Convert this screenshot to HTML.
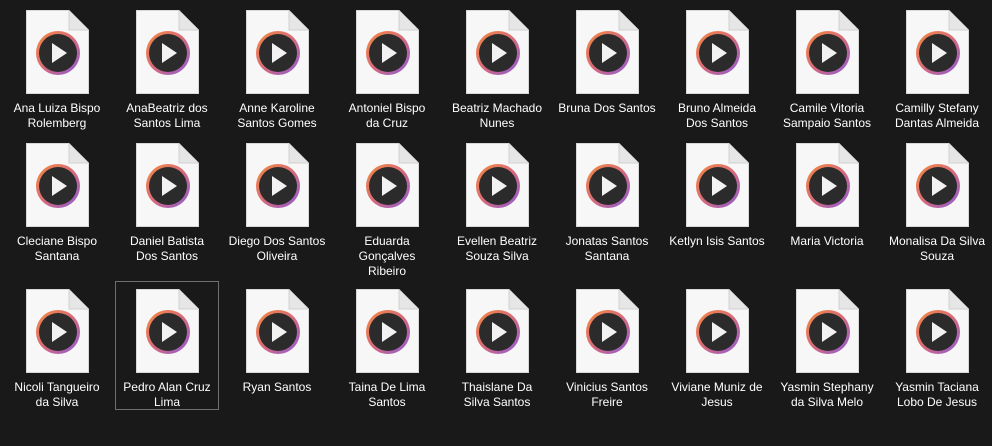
<!DOCTYPE html>
<html><head><meta charset="utf-8"><style>
html,body{margin:0;padding:0;background:#191919;width:992px;height:446px;overflow:hidden;font-family:"Liberation Sans",sans-serif;}
.cell{position:absolute;width:104px;}
.icon{position:absolute;left:21px;top:8px;width:63px;height:84px;}
.label{position:absolute;left:0;width:104px;top:99px;text-align:center;color:#fff;font-size:12px;line-height:15px;}
.sel{outline:1px solid #6e6e6e;outline-offset:-1px;}
</style></head><body>
<svg width="0" height="0" style="position:absolute"><defs>
<linearGradient id="rg" x1="0" y1="0" x2="1" y2="1"><stop offset="0" stop-color="#f58a3c"/><stop offset="0.5" stop-color="#d86a7a"/><stop offset="1" stop-color="#8a5ad8"/></linearGradient>
</defs></svg>
<div id="grid"></div>
<script>
const names=[
"Ana Luiza Bispo Rolemberg","AnaBeatriz dos Santos Lima","Anne Karoline Santos Gomes","Antoniel Bispo da Cruz","Beatriz Machado Nunes","Bruna Dos Santos","Bruno Almeida Dos Santos","Camile Vitoria Sampaio Santos","Camilly Stefany Dantas Almeida",
"Cleciane Bispo Santana","Daniel Batista Dos Santos","Diego Dos Santos Oliveira","Eduarda Gonçalves Ribeiro","Evellen Beatriz Souza Silva","Jonatas Santos Santana","Ketlyn Isis Santos","Maria Victoria","Monalisa Da Silva Souza",
"Nicoli Tangueiro da Silva","Pedro Alan Cruz Lima","Ryan Santos","Taina De Lima Santos","Thaislane Da Silva Santos","Vinicius Santos Freire","Viviane Muniz de Jesus","Yasmin Stephany da Silva Melo","Yasmin Taciana Lobo De Jesus"];
const lines=[
["Ana Luiza Bispo","Rolemberg"],["AnaBeatriz dos","Santos Lima"],["Anne Karoline","Santos Gomes"],["Antoniel Bispo","da Cruz"],["Beatriz Machado","Nunes"],["Bruna Dos Santos"],["Bruno Almeida","Dos Santos"],["Camile Vitoria","Sampaio Santos"],["Camilly Stefany","Dantas Almeida"],
["Cleciane Bispo","Santana"],["Daniel Batista","Dos Santos"],["Diego Dos Santos","Oliveira"],["Eduarda","Gonçalves","Ribeiro"],["Evellen Beatriz","Souza Silva"],["Jonatas Santos","Santana"],["Ketlyn Isis Santos"],["Maria Victoria"],["Monalisa Da Silva","Souza"],
["Nicoli Tangueiro","da Silva"],["Pedro Alan Cruz","Lima"],["Ryan Santos"],["Taina De Lima","Santos"],["Thaislane Da","Silva Santos"],["Vinicius Santos","Freire"],["Viviane Muniz de","Jesus"],["Yasmin Stephany","da Silva Melo"],["Yasmin Taciana","Lobo De Jesus"]];
const rowTops=[2,135,281];
const icon='<svg class="icon" viewBox="0 0 63 84"><path d="M0.5 0.5H43L62.5 20V83.5H0.5Z" fill="#f7f7f7" stroke="#d8d8d8"/><path d="M43 0.5V20H62.5" fill="#e6e6e6" stroke="#d0d0d0"/><circle cx="32" cy="43" r="22" fill="url(#rg)"/><circle cx="32" cy="43" r="19" fill="#2b2b2b"/><path d="M26 33L41 43L26 53Z" fill="#f2f2f2"/></svg>';
const g=document.getElementById('grid');
names.forEach((n,i)=>{
  const r=Math.floor(i/9),c=i%9;
  const d=document.createElement('div');
  d.className='cell'+(i===19?' sel':'');
  d.style.left=(115+(c-1)*110)+'px';
  d.style.top=rowTops[r]+'px';
  d.style.height='129px';
  
  
  d.innerHTML=icon+'<div class="label">'+lines[i].join('<br>')+'</div>';
  g.appendChild(d);
});
</script>
</body></html>
